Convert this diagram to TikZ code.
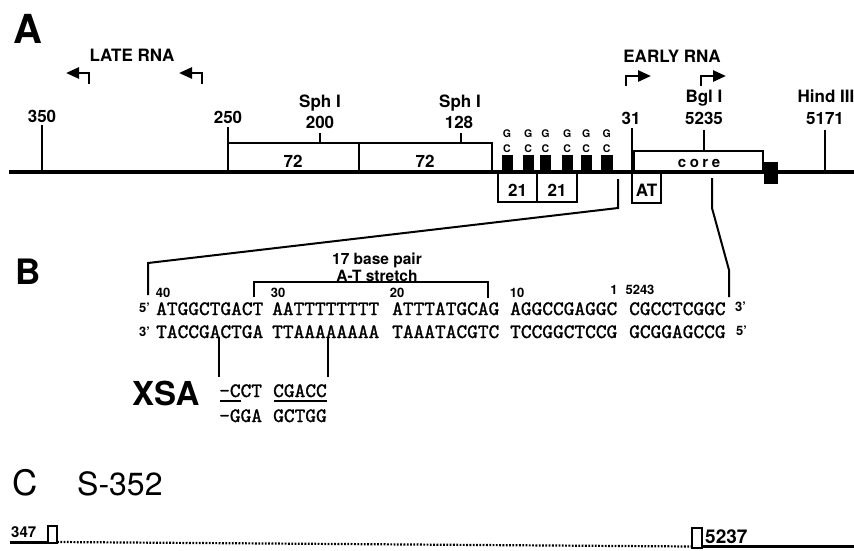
\documentclass[tikz,border=0pt]{standalone}
\usepackage{fontspec}
\setmainfont{TeX Gyre Heros}
\newfontfamily\seqfont[FakeBold=1.3]{lmmono10-regular.otf}
\usetikzlibrary{arrows.meta}
\newcommand\myfs[1]{\fontsize{#1}{#1}\selectfont}
\begin{document}
\begin{tikzpicture}[x=1pt,y=-1pt,
  lab/.style={font=\bfseries\myfs{17}, inner sep=0pt, anchor=base},
  small/.style={font=\bfseries\myfs{13}, inner sep=0pt, anchor=base},
  tiny/.style={font=\bfseries\myfs{10.5}, inner sep=0pt, anchor=base},
  seq/.style={font=\seqfont\myfs{20.4}, inner sep=0pt, anchor=base west},
  tick/.style={line width=2pt},
  boxl/.style={draw, line width=2pt},
  rna/.style={line width=2.6pt, line join=miter, -{Triangle[length=13pt,width=11pt]}},
  bracket/.style={line width=2pt, line join=miter},
  thin/.style={line width=1.5pt},
]
\useasboundingbox (0,0) rectangle (854,550);

% ---------------- Panel A ----------------
\node[font=\bfseries\myfs{40}, inner sep=0pt, anchor=base west] (pA) at (13,43) {A};
\node[lab] (late) at (132,61) {LATE RNA};
\node[lab] (early) at (672,62) {EARLY RNA};

% transcription arrows
\coordinate (l1a) at (89,84);  \coordinate (l1b) at (89,73);  \coordinate (l1c) at (66,73);
\coordinate (l2a) at (202,84); \coordinate (l2b) at (202,73); \coordinate (l2c) at (179,73);
\coordinate (e1a) at (626,86); \coordinate (e1b) at (626,76); \coordinate (e1c) at (651,76);
\coordinate (e2a) at (701,86); \coordinate (e2b) at (701,76); \coordinate (e2c) at (726,76);
\draw[rna] (l1a) -- (l1b) -- (l1c);
\draw[rna] (l2a) -- (l2b) -- (l2c);
\draw[rna] (e1a) -- (e1b) -- (e1c);
\draw[rna] (e2a) -- (e2b) -- (e2c);

% site labels
\node[lab] (t350) at (42,122) {350};
\node[lab] (t250) at (228,123) {250};
\node[lab] (sph1) at (320,107) {Sph I};
\node[lab] (t200) at (320,128) {200};
\node[lab] (sph2) at (460,107) {Sph I};
\node[lab] (t128) at (459,128) {128};
\node[lab] (t31) at (631,124) {31};
\node[lab] (bgl) at (704,102) {Bgl I};
\node[lab] (t5235) at (704,124) {5235};
\node[lab] (hind) at (826,102) {Hind III};
\node[lab] (t5171) at (825,124) {5171};

% main line
\coordinate (mL) at (9,171.5);
\coordinate (mR) at (854,171.5);

% 72 bp repeats
\draw[boxl] (228,143) rectangle (359,171.5);
\draw[boxl] (359,143) rectangle (492,171.5);
\node[lab] (r72a) at (293,167) {72};
\node[lab] (r72b) at (425,167) {72};

% GC boxes
\foreach \xa/\xb [count=\i] in {501.5/512.5, 522.5/534, 540/551, 561.5/573, 580.5/592, 601/612.5}{
  \fill (\xa,155) rectangle (\xb,171.5);
  \node[tiny] (g\i) at ({(\xa+\xb)/2},137.5) {G};
  \node[tiny] (c\i) at ({(\xa+\xb)/2},152.5) {C};
}

% 21 bp repeats
\draw[boxl] (498,171.5) rectangle (537,202);
\draw[boxl] (537,171.5) rectangle (577,202);
\node[lab] (r21a) at (517.5,196) {21};
\node[lab] (r21b) at (557,196) {21};

% AT box and core
\draw[boxl] (632,171.5) rectangle (661,203);
\node[lab] (at) at (646.5,196) {AT};
\draw[boxl] (634,151) rectangle (763,171.5);
\node[font=\bfseries\myfs{15}, inner sep=0pt, anchor=base] (core) at (699,167) {c\hspace{3.5pt}o\hspace{3.5pt}r\hspace{3.5pt}e};
\fill (764,162) rectangle (778,184);

% ticks
\coordinate (k350) at (42,125);
\coordinate (k250) at (228,127);
\coordinate (k200) at (320,133);
\coordinate (k128) at (461,133);
\coordinate (k31) at (632,128);
\coordinate (k31b) at (632,203);
\coordinate (k5235) at (704,130);
\coordinate (k5235b) at (704,151);
\coordinate (k5171) at (825,130);
\draw[tick] (k350) -- (k350 |- mL);
\draw[tick] (k250) -- (k250 |- mL);
\draw[tick] (k200) -- ++(0,10);
\draw[tick] (k128) -- ++(0,10);
\draw[tick] (k31) -- (k31b);
\draw[tick] (k5235) -- (k5235b);
\draw[tick] (k5171) -- (k5171 |- mL);

\draw[line width=4pt] (mL) -- (mR);

% expansion lines to panel B
\coordinate (bl1) at (618,179); \coordinate (bl2) at (618,208);
\coordinate (bl3) at (148,263); \coordinate (bl4) at (148,295);
\coordinate (br1) at (712,178); \coordinate (br2) at (712,208);
\coordinate (br3) at (729,270); \coordinate (br4) at (729,297);
\draw[bracket] (bl1) -- (bl2) -- (bl3) -- (bl4);
\draw[bracket] (br1) -- (br2) -- (br3) -- (br4);

% ---------------- Panel B ----------------
\node[font=\bfseries\myfs{35}, inner sep=0pt, anchor=base west] (pB) at (15,284) {B};
\node[font=\bfseries\myfs{15.5}, inner sep=0pt, anchor=base] (bp17) at (377,264) {17 base pair};
\node[font=\bfseries\myfs{15.5}, inner sep=0pt, anchor=base] (atstr) at (377,281) {A-T stretch};
\coordinate (ab1) at (254,297); \coordinate (ab2) at (254,282);
\coordinate (ab3) at (488,282); \coordinate (ab4) at (488,298);
\draw[bracket] (ab1) -- (ab2) -- (ab3) -- (ab4);

\node[small] (n40) at (163,297) {40};
\node[small] (n30) at (278,297) {30};
\node[small] (n20) at (397,297) {20};
\node[small] (n10) at (517,297) {10};
\node[small] (n1) at (614,294) {1};
\node[small] (n5243) at (640,294) {5243};

\node[small, anchor=base west] (p5a) at (139,312) {5\textquoteright};
\node[small, anchor=base west] (p3a) at (139,336) {3\textquoteright};
\node[small, anchor=base west] (p3b) at (735,311) {3\textquoteright};
\node[small, anchor=base west] (p5b) at (736,335) {5\textquoteright};

\node[seq] (s1) at (156,315) {ATGGCTGACT};
\node[seq] (s2) at (272,315) {AATTTTTTTT};
\node[seq] (s3) at (392,315) {ATTTATGCAG};
\node[seq] (s4) at (510,315) {AGGCCGAGGC};
\node[seq] (s5) at (629,315) {CGCCTCGGC};
\node[seq] (u1) at (156,338) {TACCGACTGA};
\node[seq] (u2) at (272,338) {TTAAAAAAAA};
\node[seq] (u3) at (392,338) {TAAATACGTC};
\node[seq] (u4) at (510,338) {TCCGGCTCCG};
\node[seq] (u5) at (629,338) {GCGGAGCCG};

% XSA
\coordinate (x1a) at (219,337); \coordinate (x1b) at (219,377);
\coordinate (x2a) at (328,337); \coordinate (x2b) at (328,377);
\draw[thin] (x1a) -- (x1b);
\draw[thin] (x2a) -- (x2b);
\node[font=\bfseries\myfs{33}, inner sep=0pt, anchor=base west] (xsa) at (132,405) {XSA};
\node[seq] (xs1) at (219,397) {-CCT};
\node[seq] (xs1b) at (273,397) {CGACC};
\node[seq] (xs2) at (219,422) {-GGA};
\node[seq] (xs2b) at (273,422) {GCTGG};
\coordinate (ul1a) at (220,400.5); \coordinate (ul1b) at (241,400.5);
\coordinate (ul2a) at (274,400.5); \coordinate (ul2b) at (327,400.5);
\draw[line width=2pt] (ul1a) -- (ul1b);
\draw[line width=2pt] (ul2a) -- (ul2b);

% ---------------- Panel C ----------------
\node[font=\myfs{35}, inner sep=0pt, anchor=base west] (pC) at (12,495) {C};
\node[font=\myfs{32}, inner sep=0pt, anchor=base west] (s352) at (77,495) {S-352};
\node[font=\bfseries\myfs{15}, inner sep=0pt, anchor=base west] (n347) at (11,537) {347};
\node[font=\bfseries\myfs{19}, inner sep=0pt, anchor=base west] (n5237) at (705,543) {5237};
\coordinate (cl1) at (10,542); \coordinate (cl2) at (48,542);
\coordinate (cd1) at (57,542); \coordinate (cd2) at (692,546.5);
\coordinate (cr1) at (702,546.5); \coordinate (cr2) at (854,546.5);
\draw[line width=3pt] (cl1) -- (cl2);
\draw[line width=2.2pt, dash pattern=on 1.8pt off 1.5pt] (cd1) -- (cd2);
\draw[line width=3pt] (cr1) -- (cr2);
\draw[line width=1.6pt, fill=white] (48,526) rectangle (57,543);
\draw[line width=1.6pt, fill=white] (692,528) rectangle (702,548);
\end{tikzpicture}
\end{document}
